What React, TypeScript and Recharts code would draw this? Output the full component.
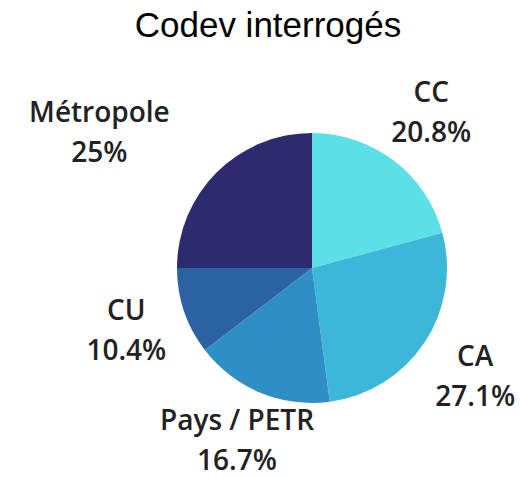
import { PieChart, Pie, Cell } from 'recharts';

const CATEGORIES = ['CC', 'CA', 'Pays / PETR', 'CU', 'Métropole'];
const SHARES = [20.8, 27.1, 16.7, 10.4, 25];
const SHARE_LABELS = ['20.8%', '27.1%', '16.7%', '10.4%', '25%'];

const SLICE_COLORS = ['#5ddfe7', '#3db7d8', '#2d8fc6', '#2b62a2', '#2d2b6d'];

// the Métropole label sits further out to the left in the original,
// the bottom one is lifted a little so it stays inside the frame
const LABEL_NUDGE: Record<string, { dx: number; dy: number }> = {
  Métropole: { dx: -74, dy: 3 },
  'Pays / PETR': { dx: 0, dy: -9 },
};

const data = CATEGORIES.map((name, i) => ({
  name,
  value: SHARES[i],
  share: SHARE_LABELS[i],
}));

const RADIAN = Math.PI / 180;

const renderLabel = (props: any) => {
  const { cx, cy, midAngle, outerRadius, payload } = props;
  const r = outerRadius + 61;
  const nudge = LABEL_NUDGE[payload.name] || { dx: 0, dy: 0 };
  const x = cx + r * Math.cos(-midAngle * RADIAN) + nudge.dx;
  const y = cy + r * Math.sin(-midAngle * RADIAN) + nudge.dy;
  return (
    <text
      x={x}
      y={y - 10.5}
      textAnchor="middle"
      fill="#222"
      style={{ fontFamily: '"Open Sans", sans-serif', fontSize: 28, fontWeight: 600 }}
    >
      <tspan x={x} y={y - 10.5}>{payload.name}</tspan>
      <tspan x={x} y={y + 29.5}>{payload.share}</tspan>
    </text>
  );
};

export default function App() {
  return (
    <div style={{ position: 'absolute', left: 0, top: 0, width: 521, height: 478, background: '#fff' }}>
      <div
        style={{
          position: 'absolute',
          left: 0,
          top: 7,
          width: 536,
          textAlign: 'center',
          fontFamily: '"Liberation Sans", Arial, sans-serif',
          fontSize: 35,
          lineHeight: 1,
          color: '#000',
        }}
      >
        Codev interrogés
      </div>
      <PieChart width={521} height={478}>
        <Pie
          data={data}
          dataKey="value"
          nameKey="name"
          cx={307}
          cy={263}
          outerRadius={135}
          startAngle={90}
          endAngle={-270}
          stroke="none"
          label={renderLabel}
          labelLine={false}
          isAnimationActive={false}
        >
          {data.map((entry, i) => (
            <Cell key={entry.name} fill={SLICE_COLORS[i]} />
          ))}
        </Pie>
      </PieChart>
    </div>
  );
}
